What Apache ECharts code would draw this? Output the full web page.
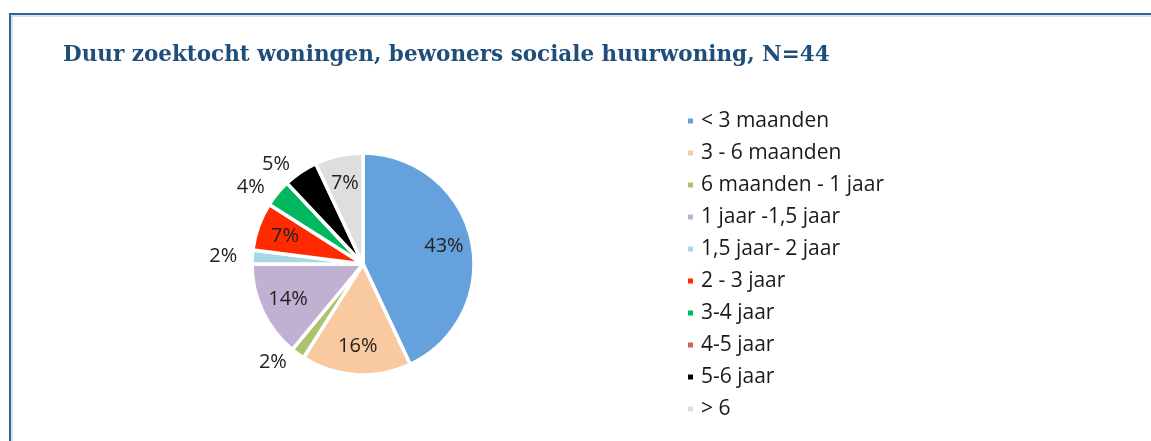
<!DOCTYPE html>
<html>
<head>
<meta charset="utf-8">
<script src="https://cdn.jsdelivr.net/npm/echarts@6/dist/echarts.min.js"></script>
<style>
html, body { margin: 0; padding: 0; background: #fff; }
#chart { width: 1151px; height: 441px; }
</style>
</head>
<body>
<div id="chart"></div>
<script>
const titleText = "Duur zoektocht woningen, bewoners sociale huurwoning, N=44";
const categories = [
    "< 3 maanden",
    "3 - 6 maanden",
    "6 maanden - 1 jaar",
    "1 jaar -1,5 jaar",
    "1,5 jaar- 2 jaar",
    "2 - 3 jaar",
    "3-4 jaar",
    "4-5 jaar",
    "5-6 jaar",
    "> 6"
];
const values = [43, 16, 2, 14, 2, 7, 4, 0, 5, 7];
const colors = ["#65A1DC", "#F9C9A0", "#A9C46C", "#C0B0D2", "#A7D7E4", "#FF2A00", "#00B95E", "#CC6464", "#000000", "#DEDEDE"];

const cx = 363, cy = 264, R = 111;
const labelFont = "Open Sans";

// small slices get their label outside, 0 gets none
const mainData = categories.map((c, i) => {
    const v = values[i];
    return {
        name: c,
        value: v,
        itemStyle: { color: colors[i] },
        label: { show: v > 0 && v < 7 }
    };
});
// transparent ring only to put the inner labels further out
const labelData = categories.map((c, i) => {
    const v = values[i];
    return {
        name: c,
        value: v,
        label: { show: v >= 7 }
    };
});

const chart = echarts.init(document.getElementById("chart"));
const option = {
    animation: false,
    title: {
        text: titleText,
        left: 58,
        top: 39,
        textStyle: {
            fontFamily: "DejaVu Serif",
            fontWeight: "bold",
            fontSize: 21.5,
            color: "#1F4E7A"
        }
    },
    legend: {
        orient: "vertical",
        left: 681,
        top: 104,
        icon: "rect",
        itemWidth: 7,
        itemHeight: 7,
        itemGap: 8,
        selectedMode: false,
        textStyle: {
            fontFamily: labelFont,
            fontSize: 21,
            color: "#1a1a1a",
            lineHeight: 24,
            padding: [0, 0, 0, 2]
        },
        data: categories
    },
    graphic: [
        {
            type: "rect",
            shape: { x: 10, y: 14, width: 1300, height: 600 },
            style: { fill: "none", stroke: "#2F6597", lineWidth: 2 }
        },
        {
            type: "rect",
            shape: { x: 12, y: 16, width: 1300, height: 600 },
            style: { fill: "none", stroke: "#A9C8E6", lineWidth: 1 }
        }
    ],
    series: [
        {
            type: "pie",
            center: [cx, cy],
            radius: R,
            startAngle: 90,
            avoidLabelOverlap: false,
            itemStyle: { borderColor: "#fff", borderWidth: 3.5 },
            label: {
                position: "outside",
                formatter: "{c}%",
                fontFamily: labelFont,
                fontSize: 20,
                color: "#222"
            },
            labelLine: { show: false, length: 10, length2: 0 },
            emphasis: { disabled: true },
            data: mainData
        },
        {
            type: "pie",
            center: [cx, cy],
            radius: [R * 0.44, R],
            startAngle: 90,
            silent: true,
            avoidLabelOverlap: false,
            itemStyle: { color: "rgba(0,0,0,0)" },
            label: {
                position: "inside",
                formatter: "{c}%",
                fontFamily: labelFont,
                fontSize: 20,
                color: "#222"
            },
            labelLine: { show: false },
            data: labelData
        }
    ]
};
chart.setOption(option);
</script>
</body>
</html>
